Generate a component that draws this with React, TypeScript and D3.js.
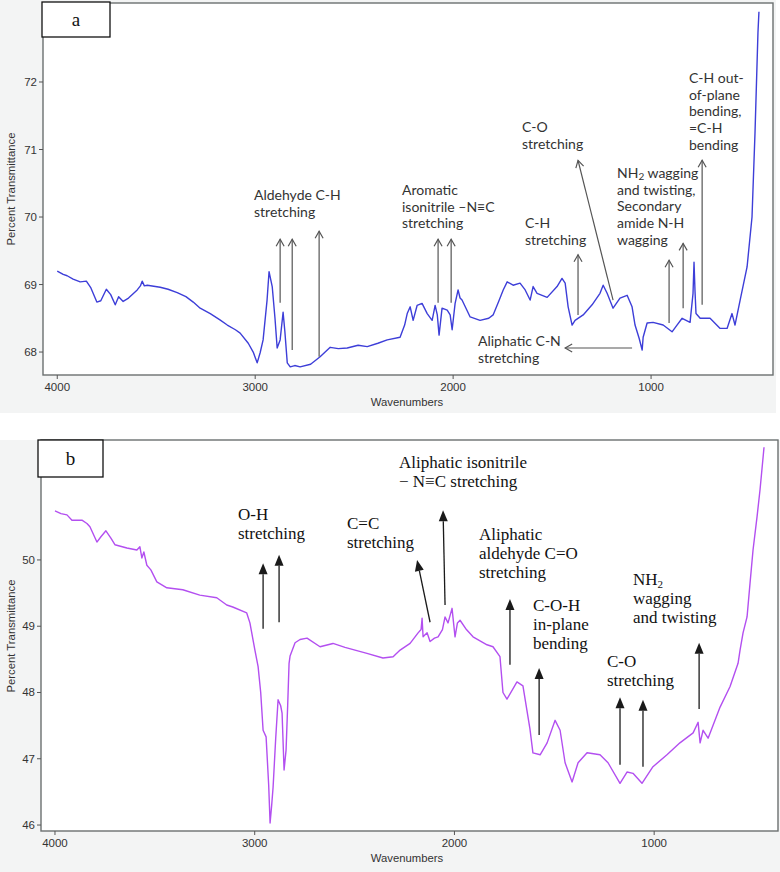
import React from "react";
import * as d3 from "d3";

// ---------- Data (panel a) ----------
const waveA = [4000,3970,3950,3920,3884,3853,3830,3800,3780,3752,3730,3707,3690,3667,3640,3596,3580,3571,3560,3545,3480,3440,3394,3350,3313,3278,3227,3180,3141,3100,3076,3035,3010,2990,2975,2960,2940,2930,2914,2900,2889,2874,2859,2850,2838,2823,2800,2773,2720,2672,2621,2580,2535,2480,2434,2380,2333,2268,2245,2232,2217,2202,2182,2157,2131,2106,2091,2080,2071,2056,2030,2015,2005,1990,1975,1965,1955,1914,1864,1820,1798,1770,1747,1727,1697,1662,1636,1611,1596,1576,1525,1475,1450,1434,1419,1399,1384,1343,1298,1258,1242,1222,1192,1157,1121,1096,1081,1060,1045,1040,1020,990,939,894,869,843,803,788,783,778,773,752,702,651,616,591,576,550,515,490,475,460,455];
const transA = [69.2,69.15,69.13,69.08,69.04,69.05,68.95,68.74,68.76,68.93,68.85,68.70,68.82,68.75,68.80,68.92,68.98,69.05,68.98,68.99,68.96,68.93,68.88,68.82,68.74,68.65,68.57,68.48,68.40,68.33,68.28,68.13,68.00,67.84,67.99,68.18,68.77,69.19,68.97,68.5,68.06,68.18,68.59,68.3,67.84,67.78,67.80,67.78,67.82,67.93,68.07,68.05,68.06,68.10,68.08,68.13,68.18,68.22,68.40,68.57,68.67,68.47,68.69,68.72,68.57,68.47,68.69,68.55,68.25,68.65,68.62,68.55,68.33,68.72,68.92,68.80,68.77,68.52,68.47,68.50,68.55,68.75,68.92,69.04,68.99,69.02,68.92,68.77,68.97,68.87,68.81,68.97,69.09,69.02,68.67,68.40,68.47,68.55,68.70,68.87,68.99,68.87,68.65,68.80,68.84,68.67,68.40,68.20,68.03,68.22,68.43,68.44,68.40,68.30,68.40,68.50,68.44,68.87,69.33,68.9,68.57,68.50,68.50,68.35,68.35,68.57,68.40,68.77,69.26,70.0,71.24,72.73,73.04];

// ---------- Data (panel b) ----------
const waveB = [4000,3970,3940,3915,3865,3840,3825,3790,3770,3745,3720,3700,3640,3590,3575,3565,3555,3540,3520,3490,3440,3360,3275,3190,3140,3110,3040,3024,2999,2983,2970,2958,2943,2930,2923,2915,2908,2895,2883,2870,2863,2853,2843,2835,2828,2823,2798,2773,2738,2673,2608,2548,2438,2358,2307,2272,2222,2182,2167,2162,2157,2137,2122,2100,2082,2060,2047,2032,2012,1997,1985,1972,1940,1907,1837,1807,1772,1757,1737,1687,1657,1622,1607,1571,1536,1496,1471,1446,1411,1381,1336,1271,1231,1171,1136,1106,1061,1006,936,871,805,780,770,755,730,670,620,580,570,555,535,520,505,485,470,450];
const transB = [50.74,50.70,50.68,50.60,50.60,50.55,50.50,50.27,50.35,50.44,50.33,50.23,50.18,50.15,50.20,50.03,50.12,49.92,49.85,49.67,49.58,49.55,49.47,49.43,49.32,49.29,49.20,49.05,48.64,48.39,48.0,47.43,47.33,46.6,46.03,46.3,46.57,47.3,47.89,47.8,47.69,46.83,47.13,47.8,48.44,48.55,48.75,48.80,48.82,48.69,48.74,48.68,48.59,48.52,48.54,48.64,48.74,48.90,48.95,49.12,48.84,48.90,48.77,48.82,48.84,48.95,49.14,49.05,49.27,48.84,49.05,49.09,48.95,48.84,48.72,48.69,48.54,48.0,47.90,48.16,48.10,47.45,47.09,47.06,47.24,47.58,47.43,46.94,46.65,46.94,47.09,47.06,46.94,46.63,46.80,46.78,46.63,46.88,47.06,47.24,47.39,47.55,47.24,47.43,47.31,47.78,48.09,48.44,48.64,48.90,49.14,49.65,50.15,50.65,51.06,51.7];

const xTicks = [4000, 3000, 2000, 1000];
const yTicksA = [68, 69, 70, 71, 72];
const yTicksB = [46, 47, 48, 49, 50];

// arrows in data units: [wFrom, vFrom, wTo, vTo]
const arrowsA = [
  [2874, 68.73, 2874, 69.67],
  [2813, 68.03, 2813, 69.67],
  [2677, 67.93, 2677, 69.79],
  [2076, 68.73, 2076, 69.67],
  [2010, 68.73, 2010, 69.67],
  [1369, 68.55, 1369, 69.44],
  [1192, 68.77, 1369, 70.84],
  [909, 68.43, 909, 69.36],
  [838, 68.65, 838, 69.61],
  [742, 68.70, 742, 70.84],
  [1096, 68.06, 1434, 68.06],
];
const arrowsB = [
  [2958, 48.96, 2958, 49.95],
  [2878, 49.06, 2878, 50.08],
  [2122, 49.06, 2187, 50.0],
  [2047, 49.32, 2057, 50.75],
  [1722, 48.42, 1722, 49.41],
  [1576, 47.36, 1576, 48.37],
  [1171, 46.91, 1171, 47.93],
  [1056, 46.88, 1056, 47.89],
  [775, 47.75, 775, 48.75],
];

// text labels: [x, y, lines]
const labelsA: [number, number, string[]][] = [
  [254, 200, ["Aldehyde C-H", "stretching"]],
  [402, 195, ["Aromatic", "isonitrile \u2013N\u2261C", "stretching"]],
  [522, 132, ["C-O", "stretching"]],
  [525, 228, ["C-H", "stretching"]],
  [617, 178, ["NH\u2082 wagging", "and twisting,", "Secondary", "amide N-H", "wagging"]],
  [689, 83, ["C-H out-", "of-plane", "bending,", "=C-H", "bending"]],
  [478, 346, ["Aliphatic C-N", "stretching"]],
];
const labelsB: [number, number, string[]][] = [
  [238, 520, ["O-H", "stretching"]],
  [347, 529, ["C=C", "stretching"]],
  [399, 468, ["Aliphatic isonitrile", "\u2212 N\u2261C stretching"]],
  [479, 540, ["Aliphatic", "aldehyde C=O", "stretching"]],
  [533, 611, ["C-O-H", "in-plane", "bending"]],
  [607, 667, ["C-O", "stretching"]],
  [633, 585, ["NH2", "wagging", "and twisting"]],
];

type PanelProps = {
  waves: number[];
  vals: number[];
  xDom: [number, number];
  yDom: [number, number];
  left: number; right: number; top: number; bottom: number;
  yTicks: number[];
  color: string;
  letter: string;
  box: [number, number, number, number];
  arrows: number[][];
  labels: [number, number, string[]][];
  filled: boolean;
  yTitleY: number;
};

function renderLine(s: string) {
  if (s === "NH2") {
    return (
      <>
        NH<tspan fontSize="11" dy="3">2</tspan>
      </>
    );
  }
  if (s.startsWith("NH\u2082")) {
    return (
      <>
        NH<tspan fontSize="10" dy="2">2</tspan>
        <tspan dy="-2">{s.slice(3)}</tspan>
      </>
    );
  }
  return s;
}

function Panel(p: PanelProps) {
  const x = d3.scaleLinear().domain(p.xDom).range([p.left, p.right]);
  const y = d3.scaleLinear().domain(p.yDom).range([p.bottom, p.top]);
  const pts: [number, number][] = p.waves.map((w, i) => [w, p.vals[i]]);
  const line = d3.line<[number, number]>().x((d) => x(d[0])).y((d) => y(d[1]));
  const axisFont = "Liberation Sans, Arial, sans-serif";
  const annFont = p.filled ? "Liberation Serif, Times New Roman, serif" : "Lato, Calibri, sans-serif";
  const annSize = p.filled ? 17 : 14;
  const lh = p.filled ? 19 : 16.7;
  const arrowColor = p.filled ? "#1a1a1a" : "#555";
  return (
    <g>
      <rect x={p.left} y={p.top} width={p.right - p.left} height={p.bottom - p.top} fill="#fff" stroke="#6b7070" strokeWidth={1.4} />
      <path d={line(pts) || ""} fill="none" stroke={p.color} strokeWidth={1.4} strokeLinejoin="round" />
      {p.yTicks.map((t) => (
        <g key={t}>
          <line x1={p.left - 4} x2={p.left} y1={y(t)} y2={y(t)} stroke="#555" />
          <text x={p.left - 6} y={y(t) + 4} textAnchor="end" fontSize={11.5} fontFamily={axisFont} fill="#333">{t}</text>
        </g>
      ))}
      {xTicks.map((t) => (
        <g key={t}>
          <line x1={x(t)} x2={x(t)} y1={p.bottom} y2={p.bottom + 4} stroke="#555" />
          <text x={x(t)} y={p.bottom + 16} textAnchor="middle" fontSize={11.5} fontFamily={axisFont} fill="#333">{t}</text>
        </g>
      ))}
      <text x={407} y={p.bottom + 31} textAnchor="middle" fontSize={11.3} fontFamily={axisFont} fill="#333">Wavenumbers</text>
      <text transform={`translate(15,${p.yTitleY}) rotate(-90)`} textAnchor="middle" fontSize={11.3} fontFamily={axisFont} fill="#333">Percent Transmittance</text>
      <rect x={p.box[0]} y={p.box[1]} width={p.box[2]} height={p.box[3]} fill="#fff" stroke="#111" strokeWidth={1.3} />
      <text x={p.box[0] + p.box[2] / 2} y={p.box[1] + p.box[3] / 2 + 6} textAnchor="middle" fontSize={19} fontFamily="Liberation Serif, Times New Roman, serif" fill="#111">{p.letter}</text>
      {p.arrows.map((a, i) => {
        const x1 = x(a[0]), y1 = y(a[1]), x2 = x(a[2]), y2 = y(a[3]);
        const ang = Math.atan2(y2 - y1, x2 - x1);
        const L = p.filled ? 11 : 7;
        const W = p.filled ? 4.5 : 4;
        const bx = x2 - L * Math.cos(ang), by = y2 - L * Math.sin(ang);
        const px = -Math.sin(ang) * W, py = Math.cos(ang) * W;
        return (
          <g key={i}>
            <line x1={x1} y1={y1} x2={p.filled ? bx : x2} y2={p.filled ? by : y2} stroke={arrowColor} strokeWidth={p.filled ? 1.3 : 1.2} />
            {p.filled ? (
              <path d={`M${x2},${y2}L${bx + px},${by + py}L${bx - px},${by - py}Z`} fill={arrowColor} />
            ) : (
              <path d={`M${bx + px},${by + py}L${x2},${y2}L${bx - px},${by - py}`} fill="none" stroke={arrowColor} strokeWidth={1.2} />
            )}
          </g>
        );
      })}
      {p.labels.map((lb, i) => (
        <text key={i} fontSize={annSize} fontFamily={annFont} fill={p.filled ? "#111" : "#333"}>
          {lb[2].map((s, j) => (
            <tspan key={j} x={lb[0]} y={lb[1] + j * lh}>{renderLine(s)}</tspan>
          ))}
        </text>
      ))}
    </g>
  );
}

export default function App() {
  return (
    <svg width={780} height={872} style={{ position: "absolute", left: 0, top: 0, display: "block" }}>
      <rect x={0} y={0} width={780} height={872} fill="#fff" />
      <rect x={0} y={0} width={776} height={413} fill="#f3f4f4" />
      <rect x={0} y={440} width={780} height={432} fill="#f3f4f4" />
      <Panel waves={waveA} vals={transA} xDom={[4072, 384]} yDom={[67.66, 73.17]} left={43} right={773} top={3} bottom={375}
        yTicks={yTicksA} color="#3d3ed8" letter="a" box={[42, 2, 68, 35]} arrows={arrowsA} labels={labelsA} filled={false} yTitleY={189} />
      <Panel waves={waveB} vals={transB} xDom={[4070, 380]} yDom={[45.91, 51.81]} left={41} right={778} top={440} bottom={831}
        yTicks={yTicksB} color="#b34ff0" letter="b" box={[38, 440, 65, 37]} arrows={arrowsB} labels={labelsB} filled={true} yTitleY={636} />
    </svg>
  );
}
